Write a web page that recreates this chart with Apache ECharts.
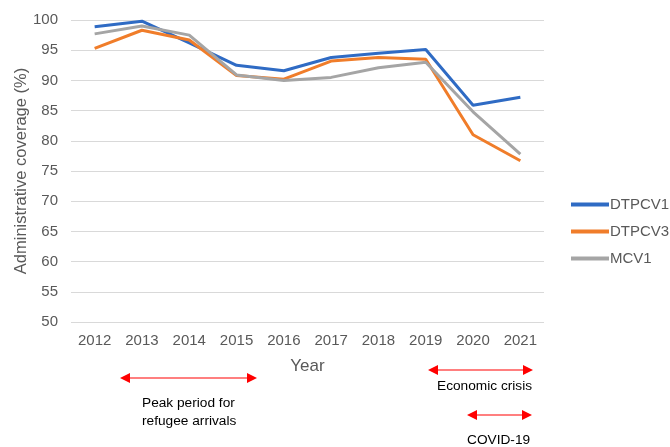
<!DOCTYPE html>
<html>
<head>
<meta charset="utf-8">
<script src="https://cdn.jsdelivr.net/npm/echarts@6/dist/echarts.min.js"></script>
<style>
html, body { margin: 0; padding: 0; background: #fff; }
#chart { width: 670px; height: 447px; }
</style>
</head>
<body>
<div id="chart"></div>
<script>
var years = ['2012', '2013', '2014', '2015', '2016', '2017', '2018', '2019', '2020', '2021'];
var dtpcv1 = [98.9, 99.8, 96.2, 92.5, 91.6, 93.8, 94.5, 95.1, 85.9, 87.2];
var dtpcv3 = [95.3, 98.3, 96.7, 90.8, 90.2, 93.2, 93.8, 93.5, 81.0, 76.7];
var mcv1 = [97.7, 99.0, 97.5, 90.9, 90.0, 90.5, 92.1, 93.0, 84.8, 77.8];

var font = 'Liberation Sans, Arial, sans-serif';
var red = '#ff0000';

// double headed arrow built from a line and two triangles
function arrow(x1, x2, y) {
	var h = 5, w = 10;
	return [
		{ type: 'line', shape: { x1: x1 + w, y1: y, x2: x2 - w, y2: y }, style: { stroke: red, lineWidth: 1.2 } },
		{ type: 'polygon', shape: { points: [[x1, y], [x1 + w, y - h], [x1 + w, y + h]] }, style: { fill: red } },
		{ type: 'polygon', shape: { points: [[x2, y], [x2 - w, y - h], [x2 - w, y + h]] }, style: { fill: red } }
	];
}

var chart = echarts.init(document.getElementById('chart'));

var graphics = []
	.concat(arrow(120, 257, 378))
	.concat(arrow(428, 533, 370))
	.concat(arrow(467, 532, 415))
	.concat([
		{ type: 'text', left: 142, top: 394, style: { text: 'Peak period for\nrefugee arrivals', font: '13.7px ' + font, fill: '#000', lineHeight: 18 } },
		{ type: 'text', left: 437, top: 379, style: { text: 'Economic crisis', font: '13.7px ' + font, fill: '#000' } },
		{ type: 'text', left: 467, top: 433, style: { text: 'COVID-19', font: '13.7px ' + font, fill: '#000' } }
	]);

var option = {
	animation: false,
	color: ['#2f6bc4', '#f07d2a', '#a5a5a5'],
	textStyle: { fontFamily: font },
	grid: { left: 71, right: 126, top: 20, bottom: 125 },
	legend: {
		orient: 'vertical',
		left: 566,
		top: 192,
		itemWidth: 38,
		itemHeight: 4,
		itemGap: 12,
		icon: 'rect',
		textStyle: { fontSize: 15, color: '#595959', padding: [0, 0, 0, -4] },
		data: ['DTPCV1', 'DTPCV3', 'MCV1']
	},
	xAxis: {
		type: 'category',
		data: years,
		name: 'Year',
		nameLocation: 'middle',
		nameGap: 36,
		nameMoveOverlap: false,
		nameTextStyle: { fontSize: 17, color: '#595959' },
		axisLine: { show: false },
		axisTick: { show: false },
		axisLabel: { fontSize: 15, color: '#595959', margin: 11 }
	},
	yAxis: {
		type: 'value',
		min: 50,
		max: 100,
		interval: 5,
		name: 'Administrative coverage (%)',
		nameLocation: 'middle',
		nameGap: 41,
		nameMoveOverlap: false,
		nameTextStyle: { fontSize: 16.5, color: '#595959' },
		axisLabel: { fontSize: 15, color: '#595959', margin: 13 },
		splitLine: { lineStyle: { color: '#d9d9d9', width: 1 } }
	},
	series: [
		{ name: 'DTPCV1', type: 'line', data: dtpcv1, symbol: 'none', lineStyle: { width: 3 } },
		{ name: 'DTPCV3', type: 'line', data: dtpcv3, symbol: 'none', lineStyle: { width: 3 } },
		{ name: 'MCV1', type: 'line', data: mcv1, symbol: 'none', lineStyle: { width: 3 } }
	],
	graphic: graphics
};

chart.setOption(option);
</script>
</body>
</html>
